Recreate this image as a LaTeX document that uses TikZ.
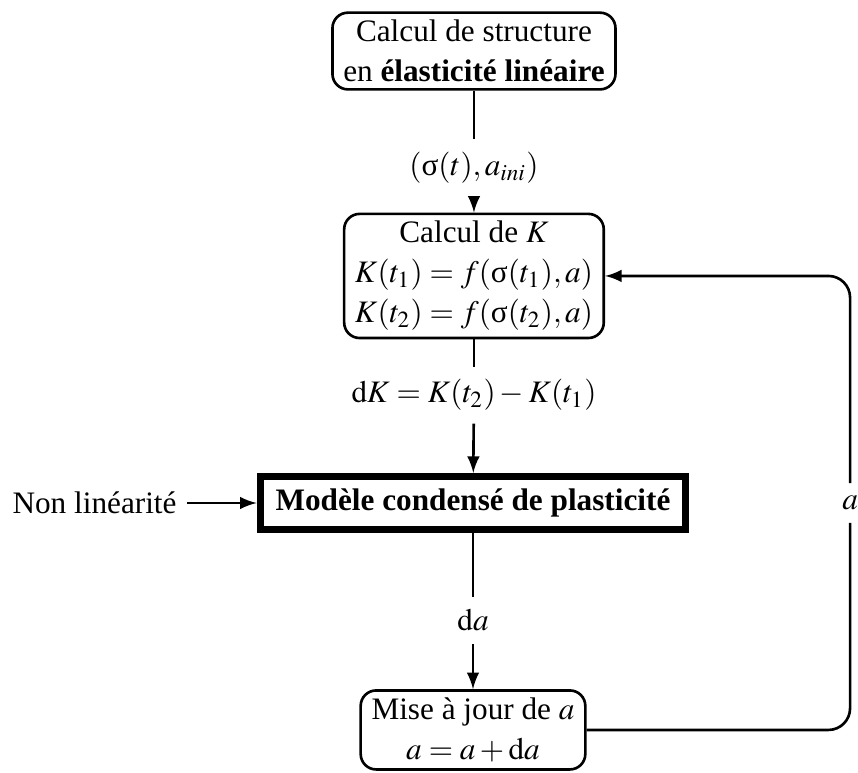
\documentclass[tikz,border=0pt]{standalone}
\usepackage{mathptmx}
\usepackage{fontspec}
\setmainfont{Liberation Serif}
\usetikzlibrary{positioning,arrows,calc}
\newcommand{\corps}{\fontsize{10.1pt}{12.9pt}\selectfont}
\newcommand{\sig}{\textnormal{σ}}
\tikzset{
  etape/.style  = {rectangle, draw, rounded corners=5pt, line width=0.85pt,
                   align=center, inner xsep=3.5pt, inner ysep=2.4pt},
  modele/.style = {rectangle, draw, line width=2.3pt, font=\corps\bfseries,
                   inner xsep=5pt, inner ysep=4pt},
  fleche/.style = {-latex, line width=0.85pt},
  trait/.style  = {line width=0.85pt},
  lien/.style   = {inner sep=4pt}
}

\begin{document}
\begin{tikzpicture}[x=1cm,y=1cm,font=\corps]
\useasboundingbox (0,0) rectangle (9.75,-8.773);

% --- les étapes du calcul ---------------------------------------------------
\node[etape]  (structure) at (5.386,-0.58)
     {Calcul de structure\\en \textbf{élasticité linéaire}};
\node[etape]  (calculK)   at (5.386,-3.136)
     {Calcul de $K$\\$K(t_1)=f(\sig(t_1),a)$\\$K(t_2)=f(\sig(t_2),a)$};
\node[modele] (modele)    at (5.375,-5.716) {Modèle condensé de plasticité};
\node[etape]  (majour)    at (5.375,-8.295) {Mise à jour de $a$\\$a=a+\mathrm{d}a$};
\node         (nonlin)    at (1.074,-5.716) {Non linéarité};

% --- les grandeurs transmises -----------------------------------------------
\node[lien] (sigma) at (5.386,-1.91) {$(\sig(t),a_{ini})$};
\node[lien] (dK)    at (5.386,-4.49) {$\mathrm{d}K=K(t_2)-K(t_1)$};
\node[lien] (da)    at (5.375,-7.05) {$\mathrm{d}a$};
\node[lien] (a)     at (9.66,-5.716) {$a$};

% --- enchaînement -------------------------------------------------------------
\draw[trait]  (structure) -- (sigma);
\draw[fleche] (sigma) -- (calculK);
\draw[trait]  (calculK) -- (dK);
\draw[fleche] (dK) -- (modele);
\draw[trait]  (modele) -- (da);
\draw[fleche] (da) -- (majour);
\draw[fleche] (nonlin) -- (modele);

% --- boucle sur a -------------------------------------------------------------
\draw[trait, rounded corners=7pt] (majour.east) -| (a.south);
\draw[fleche, rounded corners=7pt] (a.north) |- (calculK.east);

\end{tikzpicture}
\end{document}
